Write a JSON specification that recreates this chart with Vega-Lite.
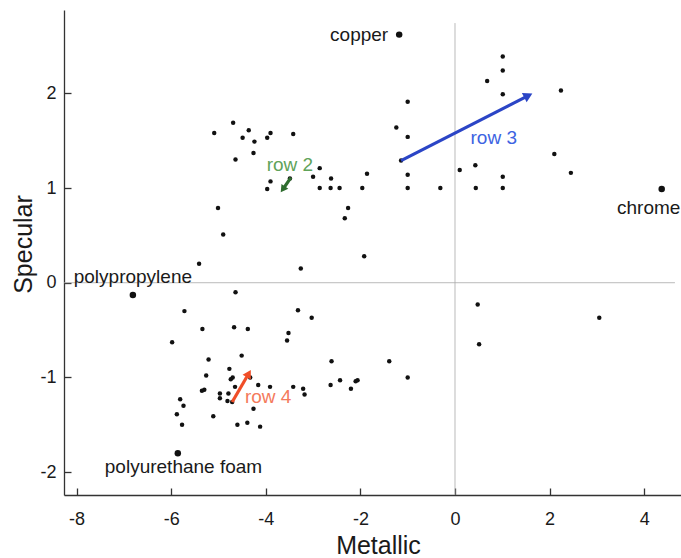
{
  "$schema": "https://vega.github.io/schema/vega-lite/v6.json",
  "autosize": {"type": "none"},
  "padding": {"left": 64, "top": 10, "right": 0, "bottom": 63},
  "width": 617,
  "height": 485,
  "background": "white",
  "config": {
    "view": {"stroke": null},
    "font": "Liberation Sans",
    "axis": {
      "grid": false,
      "domainColor": "#333",
      "domainWidth": 1.3,
      "tickColor": "#333",
      "tickWidth": 1.3,
      "tickSize": -7,
      "labelFont": "Liberation Sans",
      "labelFontSize": 18,
      "labelColor": "#1a1a1a",
      "titleFont": "Liberation Sans",
      "titleFontSize": 25,
      "titleFontWeight": "normal",
      "titleColor": "#1a1a1a"
    }
  },
  "datasets": {
    "pts": [
      {"x": -4.69, "y": 1.69}, {"x": -5.09, "y": 1.58}, {"x": -4.36, "y": 1.61}, {"x": -4.49, "y": 1.53},
      {"x": -4.24, "y": 1.49}, {"x": -3.97, "y": 1.53}, {"x": -3.90, "y": 1.58}, {"x": -3.42, "y": 1.57},
      {"x": -4.26, "y": 1.37}, {"x": -4.64, "y": 1.30}, {"x": -2.86, "y": 1.21}, {"x": -3.00, "y": 1.12},
      {"x": -2.62, "y": 1.10}, {"x": -1.86, "y": 1.15}, {"x": -3.90, "y": 1.07}, {"x": -3.97, "y": 0.99},
      {"x": -3.49, "y": 1.10}, {"x": -2.86, "y": 1.00}, {"x": -2.63, "y": 1.00}, {"x": -2.44, "y": 1.00},
      {"x": -1.96, "y": 1.00}, {"x": -5.01, "y": 0.79}, {"x": -2.26, "y": 0.79}, {"x": -2.33, "y": 0.68},
      {"x": -4.90, "y": 0.51}, {"x": -5.41, "y": 0.20}, {"x": -3.26, "y": 0.15}, {"x": -1.92, "y": 0.28},
      {"x": 1.01, "y": 2.39}, {"x": 1.01, "y": 2.24}, {"x": 0.68, "y": 2.13}, {"x": 1.01, "y": 1.99},
      {"x": 2.24, "y": 2.03}, {"x": -1.00, "y": 1.91}, {"x": -1.24, "y": 1.64}, {"x": -1.00, "y": 1.54},
      {"x": 2.10, "y": 1.36}, {"x": 2.45, "y": 1.16}, {"x": -1.14, "y": 1.29}, {"x": -1.00, "y": 1.14},
      {"x": -1.00, "y": 1.00}, {"x": -0.31, "y": 1.00}, {"x": 0.10, "y": 1.19}, {"x": 0.43, "y": 1.24},
      {"x": 1.01, "y": 1.12}, {"x": 0.44, "y": 1.00}, {"x": 1.01, "y": 1.00},
      {"x": -4.64, "y": -0.10}, {"x": -5.72, "y": -0.30}, {"x": -3.32, "y": -0.29}, {"x": -3.03, "y": -0.37},
      {"x": -5.34, "y": -0.49}, {"x": -4.67, "y": -0.47}, {"x": -4.38, "y": -0.49}, {"x": -3.52, "y": -0.53},
      {"x": -3.55, "y": -0.61}, {"x": -5.98, "y": -0.63}, {"x": -5.21, "y": -0.81}, {"x": -4.51, "y": -0.77},
      {"x": -2.61, "y": -0.83}, {"x": -5.26, "y": -0.98}, {"x": -4.77, "y": -0.91}, {"x": -4.70, "y": -1.00},
      {"x": -4.74, "y": -1.02}, {"x": -4.33, "y": -1.00}, {"x": -5.35, "y": -1.14}, {"x": -5.30, "y": -1.13},
      {"x": -4.97, "y": -1.17}, {"x": -4.97, "y": -1.22}, {"x": -4.81, "y": -1.25}, {"x": -4.79, "y": -1.17},
      {"x": -4.65, "y": -1.10}, {"x": -4.71, "y": -1.26}, {"x": -4.16, "y": -1.08}, {"x": -3.91, "y": -1.10},
      {"x": -3.42, "y": -1.10}, {"x": -3.21, "y": -1.12}, {"x": -3.18, "y": -1.18}, {"x": -2.63, "y": -1.08},
      {"x": -2.43, "y": -1.03}, {"x": -2.10, "y": -1.04}, {"x": -2.06, "y": -1.03}, {"x": -2.20, "y": -1.12},
      {"x": -4.26, "y": -1.33}, {"x": -5.81, "y": -1.23}, {"x": -5.74, "y": -1.30}, {"x": -5.88, "y": -1.39},
      {"x": -5.11, "y": -1.41}, {"x": -5.77, "y": -1.50}, {"x": -4.60, "y": -1.50}, {"x": -4.39, "y": -1.48},
      {"x": -4.12, "y": -1.52},
      {"x": 0.48, "y": -0.23}, {"x": 0.51, "y": -0.65}, {"x": 3.05, "y": -0.37}, {"x": -1.39, "y": -0.83},
      {"x": -1.00, "y": -1.00}
    ],
    "named": [
      {"name": "copper", "x": -1.18, "y": 2.62},
      {"name": "chrome", "x": 4.37, "y": 0.99},
      {"name": "polypropylene", "x": -6.81, "y": -0.13},
      {"name": "polyurethane foam", "x": -5.86, "y": -1.80}
    ],
    "arrows": [
      {"row": "row 2", "x": -3.47, "y": 1.11, "x2": -3.64, "y2": 0.986, "lx": -3.49, "ly": 1.243},
      {"row": "row 3", "x": -1.14, "y": 1.29, "x2": 1.55, "y2": 1.976, "lx": 0.82, "ly": 1.525},
      {"row": "row 4", "x": -4.71, "y": -1.26, "x2": -4.36, "y2": -0.959, "lx": -3.95, "ly": -1.204}
    ]
  },
  "resolve": {"scale": {"color": "independent"}},
  "layer": [
    {
      "data": {"values": [{}]},
      "mark": {"type": "rule", "color": "#aaa", "strokeWidth": 0.8},
      "encoding": {
        "y": {"datum": 0, "type": "quantitative", "scale": {"domain": [-2.242, 2.88], "nice": false, "zero": false},
              "axis": {"title": "Specular", "values": [-2, -1, 0, 1, 2], "labelExpr": "'' + datum.value", "labelPadding": 15, "titleAngle": -90, "titleX": -41, "titleY": 234, "titleAlign": "center", "titleBaseline": "middle"}},
        "x": {"datum": -8.266, "type": "quantitative", "scale": {"domain": [-8.266, 4.778], "nice": false, "zero": false},
              "axis": {"title": "Metallic", "values": [-8, -6, -4, -2, 0, 2, 4], "labelExpr": "'' + datum.value", "labelPadding": 22, "titleX": 314, "titleY": 50, "titleAlign": "center", "titleBaseline": "middle"}},
        "x2": {"datum": 4.65}
      }
    },
    {
      "data": {"values": [{}]},
      "mark": {"type": "rule", "color": "#aaa", "strokeWidth": 0.8},
      "encoding": {
        "x": {"datum": 0, "type": "quantitative"},
        "y": {"datum": 2.742, "type": "quantitative"},
        "y2": {"datum": -2.242}
      }
    },
    {
      "data": {"name": "pts"},
      "mark": {"type": "circle", "size": 20, "color": "#111", "opacity": 1},
      "encoding": {
        "x": {"field": "x", "type": "quantitative"},
        "y": {"field": "y", "type": "quantitative"}
      }
    },
    {
      "data": {"name": "named"},
      "mark": {"type": "circle", "size": 42, "color": "#111", "opacity": 1},
      "encoding": {
        "x": {"field": "x", "type": "quantitative"},
        "y": {"field": "y", "type": "quantitative"}
      }
    },
    {
      "data": {"name": "named"},
      "transform": [{"filter": "datum.name === 'copper'"}],
      "mark": {"type": "text", "align": "right", "baseline": "middle", "dx": -11, "fontSize": 19, "color": "#1a1a1a"},
      "encoding": {"x": {"field": "x", "type": "quantitative"}, "y": {"field": "y", "type": "quantitative"}, "text": {"field": "name"}}
    },
    {
      "data": {"name": "named"},
      "transform": [{"filter": "datum.name === 'chrome'"}],
      "mark": {"type": "text", "align": "center", "baseline": "middle", "dx": -13, "dy": 19, "fontSize": 19, "color": "#1a1a1a"},
      "encoding": {"x": {"field": "x", "type": "quantitative"}, "y": {"field": "y", "type": "quantitative"}, "text": {"field": "name"}}
    },
    {
      "data": {"name": "named"},
      "transform": [{"filter": "datum.name === 'polypropylene'"}],
      "mark": {"type": "text", "align": "center", "baseline": "middle", "dy": -18, "fontSize": 19, "color": "#1a1a1a"},
      "encoding": {"x": {"field": "x", "type": "quantitative"}, "y": {"field": "y", "type": "quantitative"}, "text": {"field": "name"}}
    },
    {
      "data": {"name": "named"},
      "transform": [{"filter": "datum.name === 'polyurethane foam'"}],
      "mark": {"type": "text", "align": "left", "baseline": "middle", "dx": -73, "dy": 14, "fontSize": 19, "color": "#1a1a1a"},
      "encoding": {"x": {"field": "x", "type": "quantitative"}, "y": {"field": "y", "type": "quantitative"}, "text": {"field": "name"}}
    },
    {
      "data": {"name": "arrows"},
      "mark": {"type": "rule", "strokeWidth": 3.2},
      "encoding": {
        "x": {"field": "x", "type": "quantitative"},
        "y": {"field": "y", "type": "quantitative"},
        "x2": {"field": "x2"},
        "y2": {"field": "y2"},
        "color": {"field": "row", "type": "nominal", "scale": {"domain": ["row 2", "row 3", "row 4"], "range": ["#2f6d2f", "#2b45c6", "#f04e28"]}, "legend": null}
      }
    },
    {
      "data": {"name": "arrows"},
      "transform": [{"filter": "datum.row === 'row 2'"}],
      "mark": {"type": "point", "shape": "triangle-up", "filled": true, "size": 70, "angle": 215, "color": "#2f6d2f", "opacity": 1},
      "encoding": {"x": {"field": "x2", "type": "quantitative"}, "y": {"field": "y2", "type": "quantitative"}}
    },
    {
      "data": {"name": "arrows"},
      "transform": [{"filter": "datum.row === 'row 3'"}],
      "mark": {"type": "point", "shape": "triangle-up", "filled": true, "size": 110, "angle": 63, "color": "#2b45c6", "opacity": 1},
      "encoding": {"x": {"field": "x2", "type": "quantitative"}, "y": {"field": "y2", "type": "quantitative"}}
    },
    {
      "data": {"name": "arrows"},
      "transform": [{"filter": "datum.row === 'row 4'"}],
      "mark": {"type": "point", "shape": "triangle-up", "filled": true, "size": 90, "angle": 30, "color": "#f04e28", "opacity": 1},
      "encoding": {"x": {"field": "x2", "type": "quantitative"}, "y": {"field": "y2", "type": "quantitative"}}
    },
    {
      "data": {"name": "arrows"},
      "mark": {"type": "text", "align": "center", "baseline": "middle", "fontSize": 19},
      "encoding": {
        "x": {"field": "lx", "type": "quantitative"},
        "y": {"field": "ly", "type": "quantitative"},
        "text": {"field": "row"},
        "color": {"field": "row", "type": "nominal", "scale": {"domain": ["row 2", "row 3", "row 4"], "range": ["#5fa35a", "#3d63e2", "#f47a5c"]}, "legend": null}
      }
    }
  ]
}
